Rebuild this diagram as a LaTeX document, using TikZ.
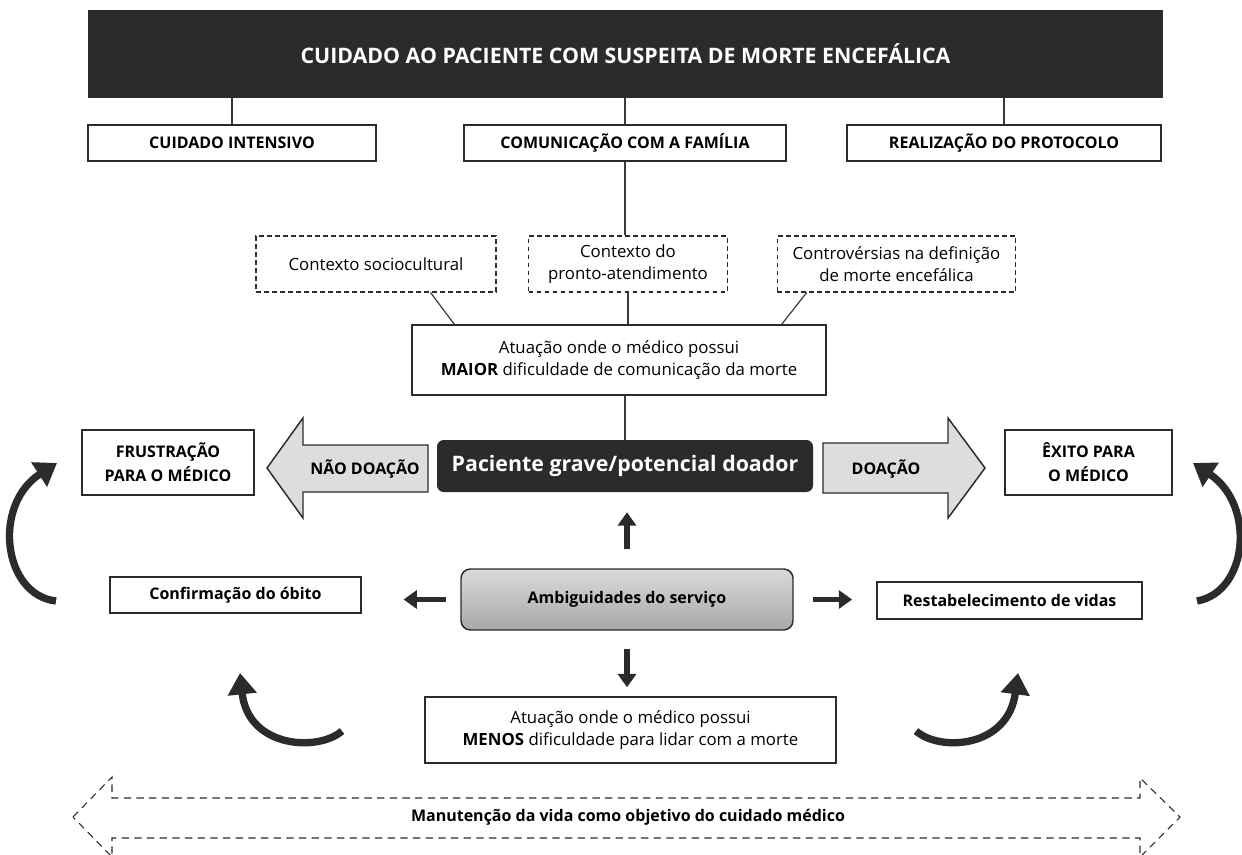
\documentclass[tikz,border=0pt]{standalone}
\usepackage{fontspec}
\setmainfont{Open Sans}
\usetikzlibrary{arrows.meta, calc}
\definecolor{medink}{HTML}{2B2B2B}
\definecolor{medline}{HTML}{3A3A3A}
\definecolor{medgray}{HTML}{DCDDDE}
\definecolor{medtop}{HTML}{DADADA}
\definecolor{medbottom}{HTML}{A8A8A8}
\newcommand{\boxfont}{\fontsize{12.6}{16.5}\selectfont}
\newcommand{\labelfont}{\bfseries\fontsize{12}{18}\selectfont}
\tikzset{
  topicbox/.style={
    draw=medink,
    line width=1.1pt,
    fill=white,
    align=center,
    inner sep=2pt,
    font=\labelfont
  },
  contextbox/.style={
    draw=medink,
    line width=0.8pt,
    dash pattern=on 3.5pt off 2.5pt,
    align=center,
    inner sep=2pt,
    font=\boxfont
  },
  notebox/.style={
    draw=medink,
    line width=1.1pt,
    align=center,
    inner sep=2pt,
    font=\boxfont
  },
  darkbox/.style={
    fill=medink,
    text=white,
    align=center,
    inner sep=2pt
  },
  linkline/.style={
    draw=medline,
    line width=0.9pt
  },
  bigarrow/.style={
    draw=medink,
    line width=1.1pt,
    fill=medgray,
    line join=miter
  },
  smallarrow/.style={
    draw=medink,
    line width=3.8pt,
    -{Triangle[length=10pt,width=13.5pt]}
  },
  bendarrow/.style={
    draw=medink,
    line width=5.5pt,
    -{Triangle[length=16pt,width=21pt]}
  },
  goalarrow/.style={
    draw=medink,
    line width=0.8pt,
    dash pattern=on 5.5pt off 4pt
  }
}

\begin{document}
\begin{tikzpicture}[x=0.75pt,y=-0.75pt]
\useasboundingbox (0,0) rectangle (1242,854);

\node[darkbox, minimum width=806pt, minimum height=66pt,
  font=\bfseries\fontsize{16}{19}\selectfont] (title) at (625.5,54)
  {CUIDADO AO PACIENTE COM SUSPEITA DE MORTE ENCEFÁLICA};

\node[topicbox, minimum width=216pt, minimum height=27pt] (intensivo) at (232,143)
  {CUIDADO INTENSIVO};
\node[topicbox, minimum width=241.5pt, minimum height=27pt] (familia) at (625,143)
  {COMUNICAÇÃO COM A FAMÍLIA};
\node[topicbox, minimum width=235.5pt, minimum height=27pt] (protocolo) at (1004,143)
  {REALIZAÇÃO DO PROTOCOLO};

\node[contextbox, minimum width=180pt, minimum height=42pt] (sociocultural) at (376,264)
  {Contexto sociocultural};
\node[contextbox, minimum width=149pt, minimum height=42pt] (pronto) at (628,264)
  {Contexto do\\pronto-atendimento};
\node[contextbox, minimum width=179pt, minimum height=42pt] (controversias) at (896.5,264)
  {Controvérsias na definição\\de morte encefálica};

\node[notebox, minimum width=310.5pt, minimum height=52.5pt] (maior) at (619,360)
  {Atuação onde o médico possui\\\textbf{MAIOR} dificuldade de comunicação da morte};

\node[darkbox, rounded corners=5pt, minimum width=282pt, minimum height=39pt,
  font=\bfseries\fontsize{16}{19}\selectfont] (paciente) at (625,466)
  {Paciente grave/potencial doador};

\node[topicbox, minimum width=129pt, minimum height=48.75pt] (frustracao) at (168,462.5)
  {FRUSTRAÇÃO\\PARA O MÉDICO};
\node[topicbox, minimum width=125pt, minimum height=48.75pt] (exito) at (1088.5,462.5)
  {ÊXITO PARA\\O MÉDICO};

\draw[bigarrow] (267,468) -- (303,418) -- (303,445) -- (428,445) -- (428,492)
  -- (303,492) -- (303,518) -- cycle;
\node[font=\labelfont] (naodoacao) at (365,469) {NÃO DOAÇÃO};
\draw[bigarrow] (823,443) -- (948,443) -- (948,418) -- (985,468) -- (948,518)
  -- (948,493) -- (823,493) -- cycle;
\node[font=\labelfont] (doacao) at (886,469) {DOAÇÃO};

\node[notebox, rounded corners=7pt, top color=medtop, bottom color=medbottom,
  minimum width=249pt, minimum height=45.75pt, font=\labelfont] (ambiguidades) at (627,599.5)
  {Ambiguidades do serviço};
\node[topicbox, minimum width=188pt, minimum height=27pt] (confirmacao) at (235.5,595)
  {Confirmação do óbito};
\node[topicbox, minimum width=199pt, minimum height=27.75pt] (restabelecimento) at (1009.5,600.5)
  {Restabelecimento de vidas};
\node[notebox, minimum width=308pt, minimum height=49.5pt] (menos) at (630.5,730)
  {Atuação onde o médico possui\\\textbf{MENOS} dificuldade para lidar com a morte};

\draw[linkline] (intensivo.north) -- (intensivo.north |- title.south);
\draw[linkline] (familia.north) -- (familia.north |- title.south);
\draw[linkline] (protocolo.north) -- (protocolo.north |- title.south);
\draw[linkline] (familia.south) -- (familia.south |- pronto.north);
\draw[linkline] ($(sociocultural.south east)+(-66,0)$) -- ($(maior.north west)+(43,0)$);
\draw[linkline] (pronto.south) -- (pronto.south |- maior.north);
\draw[linkline] ($(controversias.south west)+(30,0)$) -- ($(maior.north east)+(-45,0)$);
\draw[linkline] (paciente.north) -- (paciente.north |- maior.south);

\draw[smallarrow, shorten <=14.25pt, shorten >=15pt]
  (ambiguidades.north) -- (ambiguidades.north |- paciente.south);
\draw[smallarrow, shorten <=10.5pt, shorten >=31.5pt]
  (ambiguidades.west) -- (ambiguidades.west -| confirmacao.east);
\draw[smallarrow, shorten <=14.25pt, shorten >=18pt]
  (ambiguidades.east) -- (ambiguidades.east -| restabelecimento.west);
\draw[smallarrow, shorten <=13.5pt, shorten >=6.75pt]
  (ambiguidades.south) -- (ambiguidades.south |- menos.north);

\draw[bendarrow] (56,601) .. controls (3,595) and (-8,505) .. (57,463);
\draw[bendarrow] (1197,601) .. controls (1248,592) and (1256,505) .. (1193,463);
\draw[bendarrow] (342,731) .. controls (318,752) and (248,748) .. (240,673);
\draw[bendarrow] (916,731) .. controls (940,752) and (1008,748) .. (1018,673);

\draw[goalarrow] (73,817) -- (112,777) -- (112,798) -- (1140,798) -- (1140,778)
  -- (1180,817) -- (1140,857) -- (1140,838) -- (112,838) -- (112,857) -- cycle;
\node[font=\labelfont] (manutencao) at (628,817)
  {Manutenção da vida como objetivo do cuidado médico};
\end{tikzpicture}
\end{document}
